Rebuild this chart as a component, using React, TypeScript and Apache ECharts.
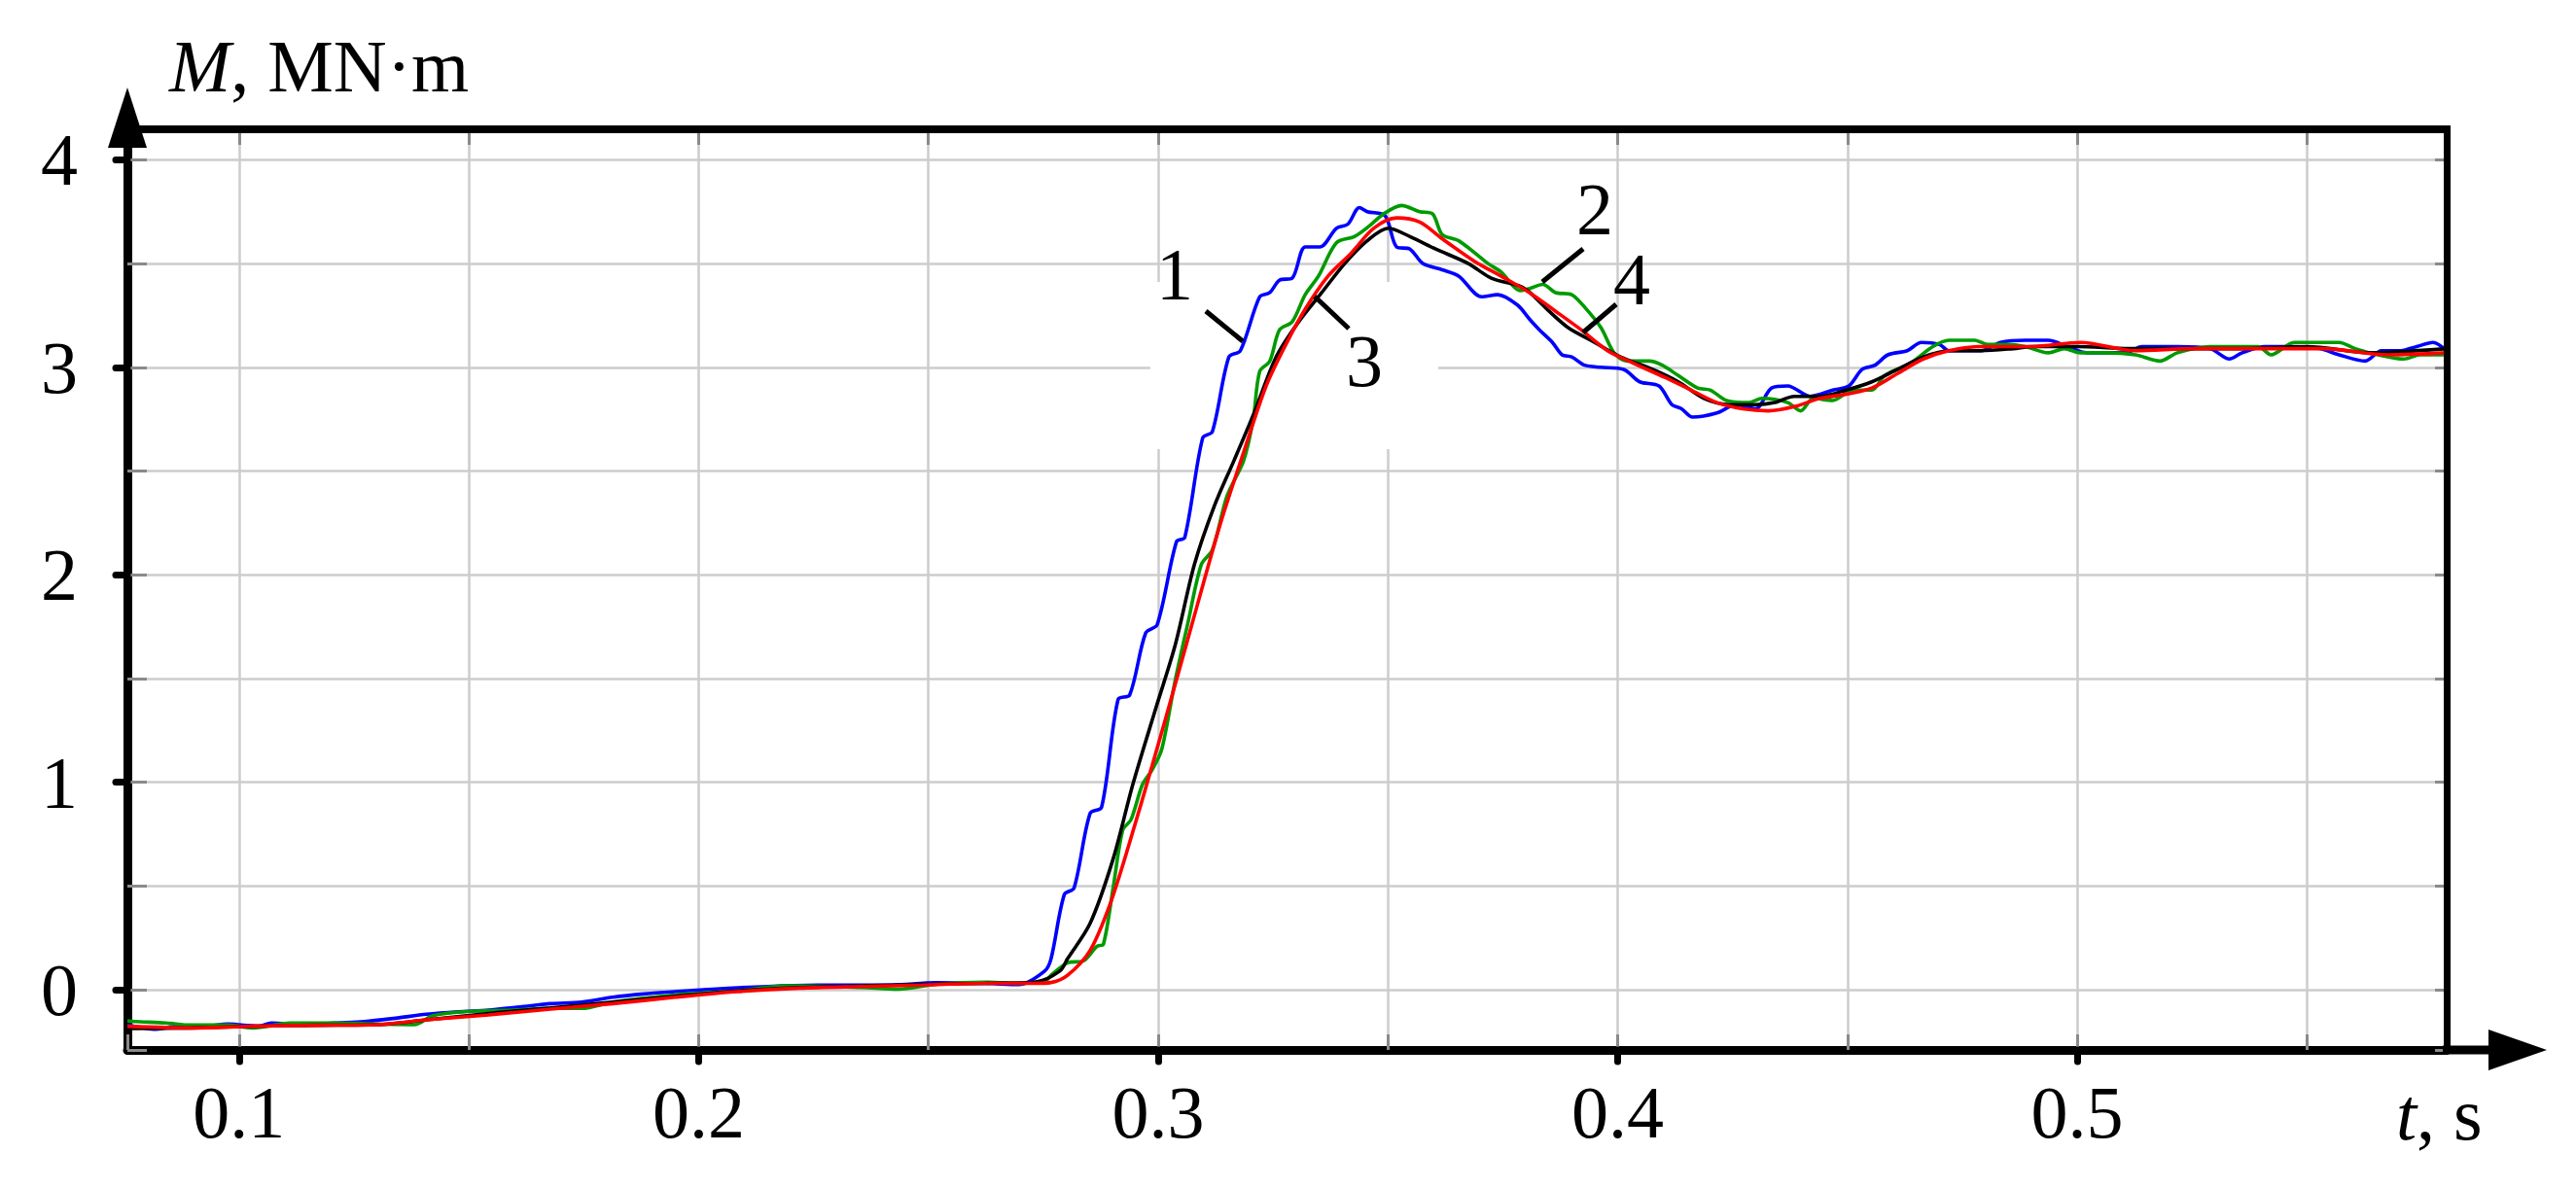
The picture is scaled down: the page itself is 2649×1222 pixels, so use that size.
import React, { useEffect, useRef } from 'react';
import * as echarts from 'echarts';

// Axis ranges and tick labels
const X_MIN = 0.0757;
const X_MAX = 0.5804;
const Y_MIN = -0.29;
const Y_MAX = 4.147;
const X_LABELS = [0.1, 0.2, 0.3, 0.4, 0.5];
const Y_LABELS = [0, 1, 2, 3, 4];

// Curve 1 (blue)
const curve1: [number, number][] = [
  [0.0757, -0.17], [0.0773, -0.176], [0.0814, -0.19], [0.0868, -0.176], [0.0922, -0.176], [0.0976, -0.165],
  [0.1043, -0.176], [0.107, -0.16], [0.1138, -0.17], [0.1205, -0.16], [0.1273, -0.153], [0.134, -0.137],
  [0.1408, -0.118], [0.1476, -0.106], [0.1543, -0.098], [0.1611, -0.083], [0.1678, -0.067], [0.1746, -0.059],
  [0.1813, -0.036], [0.1881, -0.02], [0.1949, -0.009], [0.203, 0.003], [0.2151, 0.016], [0.2259, 0.022],
  [0.2421, 0.023], [0.2516, 0.034], [0.2624, 0.031], [0.2697, 0.025], [0.2753, 0.09], [0.2767, 0.15],
  [0.2796, 0.46], [0.2817, 0.49], [0.2852, 0.85], [0.2877, 0.88], [0.2913, 1.4], [0.2938, 1.42],
  [0.2973, 1.72], [0.2998, 1.76], [0.304, 2.16], [0.3058, 2.18], [0.3097, 2.66], [0.3118, 2.69],
  [0.3154, 3.05], [0.3179, 3.08], [0.3221, 3.34], [0.3243, 3.36], [0.3264, 3.42], [0.3292, 3.43],
  [0.332, 3.58], [0.3352, 3.58], [0.3388, 3.67], [0.3413, 3.69], [0.3438, 3.77], [0.3455, 3.75],
  [0.3494, 3.73], [0.3519, 3.58], [0.3548, 3.57], [0.3576, 3.5], [0.3618, 3.47], [0.3654, 3.44],
  [0.3704, 3.34], [0.3739, 3.35], [0.3782, 3.3], [0.3809, 3.23], [0.383, 3.18], [0.3858, 3.12],
  [0.3879, 3.06], [0.39, 3.05], [0.3928, 3.01], [0.3964, 3.0], [0.4013, 2.99], [0.4048, 2.93],
  [0.409, 2.91], [0.4118, 2.82], [0.4139, 2.8], [0.4163, 2.76], [0.4216, 2.78], [0.4258, 2.82],
  [0.43, 2.8], [0.4335, 2.9], [0.437, 2.91], [0.4419, 2.86], [0.4468, 2.89], [0.4503, 2.91],
  [0.4532, 2.99], [0.456, 3.01], [0.4588, 3.06], [0.463, 3.08], [0.4661, 3.12], [0.47, 3.11],
  [0.4721, 3.08], [0.4791, 3.08], [0.4833, 3.12], [0.4887, 3.13], [0.4937, 3.13], [0.4979, 3.1],
  [0.5021, 3.07], [0.5063, 3.07], [0.5106, 3.07], [0.5141, 3.1], [0.5218, 3.1], [0.5289, 3.09],
  [0.5331, 3.04], [0.5359, 3.07], [0.5408, 3.1], [0.5472, 3.1], [0.5528, 3.09], [0.557, 3.06],
  [0.5627, 3.03], [0.5662, 3.08], [0.5704, 3.08], [0.5739, 3.1], [0.5774, 3.12], [0.5804, 3.08],
];

// Curve 2 (green)
const curve2: [number, number][] = [
  [0.0757, -0.15], [0.0773, -0.153], [0.0841, -0.16], [0.0895, -0.17], [0.0976, -0.17], [0.103, -0.184],
  [0.1111, -0.16], [0.1205, -0.16], [0.13, -0.165], [0.1381, -0.168], [0.1422, -0.125], [0.1489, -0.106],
  [0.1597, -0.098], [0.1678, -0.09], [0.1746, -0.09], [0.1813, -0.059], [0.1949, -0.025], [0.2084, -0.005],
  [0.2192, 0.019], [0.2354, 0.011], [0.2435, 0.003], [0.2516, 0.026], [0.2624, 0.037], [0.2705, 0.031],
  [0.2759, 0.05], [0.2767, 0.07], [0.2803, 0.13], [0.2838, 0.14], [0.2867, 0.21], [0.2881, 0.22],
  [0.2902, 0.49], [0.2923, 0.77], [0.2941, 0.82], [0.2966, 0.99], [0.2987, 1.06], [0.3008, 1.16],
  [0.3037, 1.49], [0.3065, 1.77], [0.3094, 2.05], [0.3118, 2.12], [0.315, 2.38], [0.3186, 2.55],
  [0.3207, 2.75], [0.3221, 2.98], [0.3243, 3.03], [0.3264, 3.18], [0.3292, 3.22], [0.332, 3.35],
  [0.3349, 3.44], [0.3388, 3.6], [0.3427, 3.63], [0.3459, 3.68], [0.3491, 3.74], [0.353, 3.78],
  [0.3569, 3.75], [0.3597, 3.74], [0.3618, 3.64], [0.3654, 3.61], [0.3718, 3.5], [0.3746, 3.46],
  [0.3789, 3.37], [0.3809, 3.38], [0.3837, 3.4], [0.3865, 3.36], [0.39, 3.35], [0.3928, 3.29],
  [0.3964, 3.19], [0.3992, 3.07], [0.402, 3.03], [0.4069, 3.03], [0.4097, 3.01], [0.4132, 2.96],
  [0.4174, 2.9], [0.4202, 2.89], [0.4237, 2.84], [0.4286, 2.83], [0.4314, 2.85], [0.437, 2.83],
  [0.4398, 2.79], [0.4426, 2.85], [0.4468, 2.84], [0.4511, 2.89], [0.4553, 2.89], [0.4581, 2.96],
  [0.4637, 3.02], [0.4686, 3.1], [0.4721, 3.13], [0.4777, 3.13], [0.4805, 3.11], [0.4847, 3.11],
  [0.4887, 3.1], [0.4937, 3.07], [0.4972, 3.09], [0.5007, 3.07], [0.5063, 3.07], [0.5127, 3.06],
  [0.518, 3.03], [0.5218, 3.07], [0.5289, 3.1], [0.5345, 3.1], [0.5394, 3.1], [0.5422, 3.06],
  [0.5472, 3.12], [0.5521, 3.12], [0.557, 3.12], [0.5605, 3.09], [0.5655, 3.06], [0.5711, 3.04],
  [0.5746, 3.06], [0.5804, 3.06],
];

// Curve 3 (black)
const curve3: [number, number][] = [
  [0.0757, -0.187], [0.0895, -0.184], [0.103, -0.176], [0.1165, -0.171], [0.13, -0.168], [0.1408, -0.145],
  [0.1543, -0.114], [0.1678, -0.087], [0.1813, -0.059], [0.1949, -0.031], [0.2084, -0.005], [0.2219, 0.011],
  [0.2354, 0.019], [0.2489, 0.026], [0.2624, 0.031], [0.2732, 0.037], [0.2786, 0.09], [0.2803, 0.15],
  [0.2852, 0.32], [0.2902, 0.63], [0.2945, 0.99], [0.2994, 1.35], [0.3037, 1.66], [0.3079, 2.05],
  [0.3122, 2.33], [0.3165, 2.55], [0.3207, 2.77], [0.3257, 3.05], [0.3306, 3.22], [0.3356, 3.36],
  [0.3406, 3.5], [0.3455, 3.61], [0.3501, 3.67], [0.3548, 3.63], [0.3604, 3.57], [0.3675, 3.5],
  [0.3725, 3.43], [0.3789, 3.39], [0.3809, 3.36], [0.3851, 3.27], [0.3893, 3.19], [0.395, 3.12],
  [0.4006, 3.05], [0.4076, 2.99], [0.4132, 2.93], [0.4188, 2.85], [0.4244, 2.82], [0.43, 2.82],
  [0.4342, 2.83], [0.4384, 2.86], [0.444, 2.86], [0.4497, 2.89], [0.4553, 2.93], [0.4609, 2.99],
  [0.4665, 3.05], [0.4721, 3.08], [0.4791, 3.08], [0.4861, 3.09], [0.4901, 3.1], [0.5, 3.1],
  [0.5113, 3.09], [0.5218, 3.09], [0.5359, 3.09], [0.55, 3.1], [0.5641, 3.07], [0.5804, 3.09],
];

// Curve 4 (red)
const curve4: [number, number][] = [
  [0.0757, -0.176], [0.0895, -0.184], [0.103, -0.176], [0.1165, -0.171], [0.13, -0.168], [0.1408, -0.145],
  [0.1543, -0.121], [0.1678, -0.093], [0.1813, -0.067], [0.1949, -0.036], [0.2084, -0.009], [0.2219, 0.008],
  [0.2354, 0.016], [0.2489, 0.023], [0.2624, 0.031], [0.2732, 0.031], [0.2767, 0.035], [0.2803, 0.07],
  [0.2852, 0.19], [0.2895, 0.41], [0.2938, 0.71], [0.2987, 1.08], [0.3037, 1.47], [0.3086, 1.86],
  [0.3136, 2.25], [0.3186, 2.59], [0.3235, 2.91], [0.3278, 3.11], [0.332, 3.28], [0.337, 3.44],
  [0.342, 3.55], [0.3469, 3.67], [0.3519, 3.72], [0.3569, 3.7], [0.3618, 3.62], [0.3689, 3.51],
  [0.3746, 3.44], [0.3808, 3.36], [0.3865, 3.27], [0.3921, 3.18], [0.3978, 3.08], [0.4034, 3.02],
  [0.4104, 2.95], [0.416, 2.89], [0.4216, 2.83], [0.4272, 2.8], [0.4328, 2.79], [0.4384, 2.81],
  [0.444, 2.85], [0.4497, 2.87], [0.4553, 2.9], [0.4609, 2.97], [0.4665, 3.04], [0.4721, 3.08],
  [0.4791, 3.1], [0.4861, 3.1], [0.4901, 3.1], [0.5007, 3.12], [0.5127, 3.08], [0.5253, 3.09],
  [0.5394, 3.09], [0.5535, 3.09], [0.5676, 3.06], [0.5804, 3.07],
];

const SERIES_NAMES = ['1', '2', '3', '4'];
const SERIES_COLORS = ['#0000ff', '#009a00', '#000000', '#ff0000'];
const SERIES_DATA = [curve1, curve2, curve3, curve4];
const DRAW_ORDER = [0, 1, 2, 3];

const FONT = "'Liberation Serif', 'Times New Roman', serif";
const FS = 76;

// Curve annotation labels: text, text centre, leader line start/end (px)
const ANNOTATIONS = [
  { text: '1', cx: 1208, cy: 282, x1: 1240, y1: 320, x2: 1278, y2: 351 },
  { text: '3', cx: 1403, cy: 371, x1: 1352, y1: 305, x2: 1387, y2: 338 },
  { text: '2', cx: 1640, cy: 215, x1: 1628, y1: 256, x2: 1586, y2: 290 },
  { text: '4', cx: 1678, cy: 287, x1: 1662, y1: 313, x2: 1628, y2: 342 },
];

export default function App() {
  const ref = useRef<HTMLDivElement>(null);

  useEffect(() => {
    if (!ref.current) return;
    const chart = echarts.init(ref.current, undefined, { renderer: 'svg' });

    const innerTick = { show: true, inside: true, length: 16, lineStyle: { color: '#8a8a8a', width: 3 } };
    const outerTick = (vals: number[]) => ({
      show: true,
      customValues: vals,
      inside: false,
      length: 12,
      lineStyle: { color: '#000', width: 7, cap: 'round' },
    });
    const gridLine = {
      show: true,
      showMinLine: false,
      showMaxLine: false,
      lineStyle: { color: '#cccccc', width: 2.5 },
    };

    const annotationGraphics: any[] = [];
    ANNOTATIONS.forEach((a) => {
      annotationGraphics.push({
        type: 'line',
        z: 10,
        shape: { x1: a.x1, y1: a.y1, x2: a.x2, y2: a.y2 },
        style: { stroke: '#000', lineWidth: 5 },
      });
      annotationGraphics.push({
        type: 'text',
        z: 10,
        x: a.cx,
        y: a.cy,
        style: { text: a.text, font: `${FS}px ${FONT}`, fill: '#000', align: 'center', verticalAlign: 'middle' },
      });
    });

    const option: any = {
      animation: false,
      backgroundColor: '#ffffff',
      grid: {
        left: 131,
        right: 133,
        top: 133,
        bottom: 142,
        show: false,
      },
      xAxis: [
        {
          type: 'value',
          min: X_MIN,
          max: X_MAX,
          splitNumber: 10,
          position: 'bottom',
          axisLine: { show: true, onZero: false, lineStyle: { color: '#000', width: 9 } },
          axisTick: innerTick,
          axisLabel: { show: false },
          splitLine: gridLine,
        },
        {
          type: 'value',
          min: X_MIN,
          max: X_MAX,
          position: 'bottom',
          axisLine: { show: false, onZero: false },
          axisTick: outerTick(X_LABELS),
          axisLabel: {
            show: true,
            customValues: X_LABELS,
            margin: 26,
            fontSize: FS,
            fontFamily: FONT,
            color: '#000',
            formatter: (v: number) => v.toFixed(1),
          },
          splitLine: { show: false },
        },
        {
          type: 'value',
          min: X_MIN,
          max: X_MAX,
          splitNumber: 10,
          position: 'top',
          axisLine: { show: false, onZero: false },
          axisTick: innerTick,
          axisLabel: { show: false },
          splitLine: { show: false },
        },
      ],
      yAxis: [
        {
          type: 'value',
          min: Y_MIN,
          max: Y_MAX,
          splitNumber: 9,
          position: 'left',
          axisLine: { show: true, onZero: false, lineStyle: { color: '#000', width: 9 } },
          axisTick: { ...innerTick, length: 20 },
          axisLabel: { show: false },
          splitLine: gridLine,
        },
        {
          type: 'value',
          min: Y_MIN,
          max: Y_MAX,
          position: 'left',
          axisLine: { show: false, onZero: false },
          axisTick: outerTick(Y_LABELS),
          axisLabel: {
            show: true,
            customValues: Y_LABELS,
            margin: 51,
            fontSize: FS,
            fontFamily: FONT,
            color: '#000',
            formatter: (v: number) => String(v),
          },
          splitLine: { show: false },
        },
        {
          type: 'value',
          min: Y_MIN,
          max: Y_MAX,
          splitNumber: 9,
          position: 'right',
          axisLine: { show: false, onZero: false },
          axisTick: { ...innerTick, length: 12 },
          axisLabel: { show: false },
          splitLine: { show: false },
        },
      ],
      series: DRAW_ORDER.map((i) => ({
        name: SERIES_NAMES[i],
        type: 'line',
        xAxisIndex: 0,
        yAxisIndex: 0,
        data: SERIES_DATA[i],
        showSymbol: false,
        smooth: 0.3,
        z: 3 + i,
        lineStyle: { color: SERIES_COLORS[i], width: 3.6 },
        itemStyle: { color: SERIES_COLORS[i] },
      })),
      graphic: [
        // white mask behind annotation labels (hides grid lines there)
        { type: 'rect', z: 1, shape: { x: 1183, y: 290, width: 296, height: 172 }, style: { fill: '#ffffff' } },
        // top and right frame
        { type: 'rect', z: 20, shape: { x: 127, y: 129, width: 2393, height: 8 }, style: { fill: '#000' } },
        { type: 'rect', z: 20, shape: { x: 2513, y: 129, width: 7, height: 952 }, style: { fill: '#000' } },
        // y axis arrow
        { type: 'polygon', z: 20, shape: { points: [[111, 152], [131, 90], [151, 152]] }, style: { fill: '#000' } },
        // x axis extension and arrow
        { type: 'rect', z: 20, shape: { x: 2512, y: 1075.5, width: 52, height: 9 }, style: { fill: '#000' } },
        { type: 'polygon', z: 20, shape: { points: [[2559, 1059], [2619, 1080], [2559, 1101]] }, style: { fill: '#000' } },
        // axis titles
        {
          type: 'text',
          z: 20,
          x: 174,
          y: 68,
          style: {
            text: '{i|M}, MN·m',
            font: `${FS}px ${FONT}`,
            fill: '#000',
            align: 'left',
            verticalAlign: 'middle',
            rich: { i: { fontStyle: 'italic', fontSize: FS, fontFamily: FONT } },
          },
        },
        {
          type: 'text',
          z: 20,
          x: 2464,
          y: 1146,
          style: {
            text: '{i|t}, s',
            font: `${FS}px ${FONT}`,
            fill: '#000',
            align: 'left',
            verticalAlign: 'middle',
            rich: { i: { fontStyle: 'italic', fontSize: FS, fontFamily: FONT } },
          },
        },
        ...annotationGraphics,
      ],
    };

    chart.setOption(option);
    return () => {
      chart.dispose();
    };
  }, []);

  return (
    <div
      ref={ref}
      style={{ position: 'fixed', left: 0, top: 0, width: 2649, height: 1222, background: '#fff' }}
    />
  );
}
